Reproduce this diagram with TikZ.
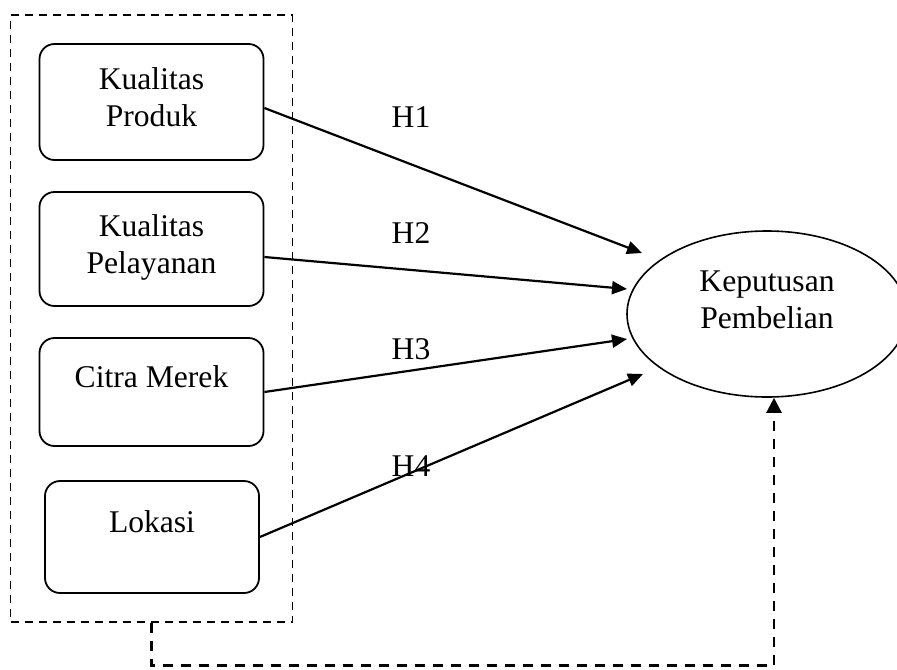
\documentclass[tikz,border=0pt]{standalone}
\usepackage{fontspec}
\setmainfont{Liberation Serif}
\usetikzlibrary{arrows.meta,shapes.geometric,fit,calc}

\begin{document}
\begin{tikzpicture}[x=0.5pt,y=-0.5pt,
    font=\fontsize{15.8}{18.3}\selectfont,
    var/.style={draw,line width=0.9pt,rounded corners=7.5pt,align=center,
      minimum width=112pt,text depth=5pt},
    single/.style={text depth=15pt},
    dep/.style={draw,ellipse,line width=0.8pt,align=center,
      minimum width=140pt,minimum height=83pt,text depth=14.5pt},
    group/.style={draw,dash pattern=on 4pt off 3pt,line width=0.75pt,inner sep=14pt},
    hyp/.style={-{Triangle[length=7.5pt,width=6.5pt]},line width=1.1pt},
    link/.style={-{Triangle[length=7.5pt,width=7.5pt]},line width=1.2pt,
      dash pattern=on 5pt off 4pt}]
  \useasboundingbox (0,0) rectangle (897,669);
  \draw
    (151.5,102) node[var,minimum height=58pt] (kp){Kualitas\\Produk}
    (151.5,249) node[var,minimum height=57pt] (kpl){Kualitas\\Pelayanan}
    (151.5,392) node[var,single,minimum height=54pt] (cm){Citra Merek}
    (152,537) node[var,single,minimum width=107pt,minimum height=56pt] (lok){Lokasi}
    (767,314) node[dep] (kep){Keputusan\\Pembelian};
  \node[group,fit=(kp)(kpl)(cm)(lok)] (frame){};
  \draw
    (411,117) node (h1){H1}
    (411,233) node (h2){H2}
    (411,349) node (h3){H3}
    (411,466) node (h4){H4};
  \coordinate (t1) at ($(kep)+(-125,-61)$);
  \coordinate (t2) at ($(kep)+(-140,-25)$);
  \coordinate (t3) at ($(kep)+(-140,25)$);
  \coordinate (t4) at ($(kep)+(-124,60)$);
  \begin{scope}[hyp]
    \draw ([yshift=-3pt]kp.east) to (t1);
    \draw ([yshift=-4pt]kpl.east) to (t2);
    \draw (cm.east) to (t3);
    \draw (lok.east) to (t4);
  \end{scope}
  \draw[link] (frame.south) -- ++(0,43) -| ([xshift=3.5pt]kep.south);
\end{tikzpicture}
\end{document}
